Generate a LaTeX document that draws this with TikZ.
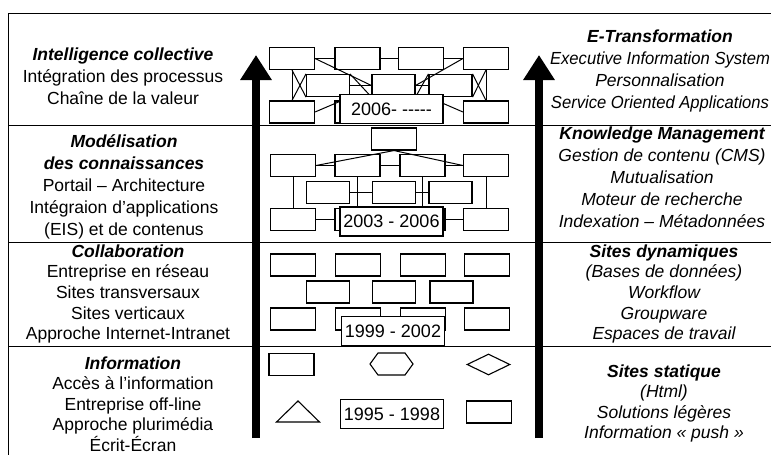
\documentclass[tikz,border=0pt]{standalone}
\usepackage{fontspec}
\usepackage{graphicx}
\setmainfont{Liberation Sans}
\usetikzlibrary{arrows.meta, positioning, shapes.geometric}

\newcommand{\squeeze}[1]{\scalebox{0.95}[1]{#1}}

\begin{document}
\begin{tikzpicture}[
        x=1pt, y=-1pt,
        blk/.style={draw, line width=1.1pt, minimum width=45pt, minimum height=22pt, inner sep=0pt},
        mid/.style={blk, minimum width=43pt},
        era/.style={draw, fill=white, line width=1.1pt, minimum width=103pt, minimum height=29pt, inner sep=0pt, font=\fontsize{18}{20}\selectfont},
        link/.style={line width=1pt},
        sep/.style={line width=0.9pt},
        col/.style={align=center, font=\fontsize{17.5}{22}\selectfont},
        coltight/.style={align=center, font=\fontsize{17.5}{20.6}\selectfont},
        rcol/.style={align=center, font=\fontsize{17.5}{22}\selectfont\itshape},
        rcoltight/.style={align=center, font=\fontsize{17.5}{20.6}\selectfont\itshape},
        evol/.style={line width=8pt, -{Triangle[width=30pt, length=25pt]}}
    ]
        \useasboundingbox (0,0) rectangle (771,455);
        \clip (0,0) rectangle (771,455);

        % Frame
        \draw[sep] (8,455) -- (8,13) -- (771,13);
        \draw[sep] (8,125) -- (771,125);
        \draw[sep] (8,242) -- (771,242);
        \draw[sep] (8,346) -- (771,346);

        % Left column
        \node[col] (l1) at (123,76.5) {\textbf{\textit{Intelligence collective}}\\Intégration des processus\\Chaîne de la valeur};
        \node[col] (l2) at (124,187) {\textbf{\textit{Modélisation}}\\\textbf{\textit{des connaissances}}\\Portail – Architecture\\Intégraion d’applications\\(EIS) et de contenus};
        \node[coltight] (l3) at (128,294) {\textbf{\textit{Collaboration}}\\Entreprise en réseau\\Sites transversaux\\Sites verticaux\\Approche Internet-Intranet};
        \node[coltight] (l4) at (133,404) {\textbf{\textit{Information}}\\Accès à l'information\\Entreprise off-line\\Approche plurimédia\\Écrit-Écran};

        % Right column
        \node[rcol] (r1) at (660,71) {\textbf{E-Transformation}\\\squeeze{Executive Information System}\\Personnalisation\\\squeeze{Service Oriented Applications}};
        \node[rcol] (r2) at (662,177) {\textbf{Knowledge Management}\\Gestion de contenu (CMS)\\Mutualisation\\Moteur de recherche\\Indexation – Métadonnées};
        \node[rcoltight] (r3) at (664,294) {\textbf{Sites dynamiques}\\(Bases de données)\\Workflow\\Groupware\\Espaces de travail};
        \node[rcoltight] (r4) at (664,403.5) {\textbf{Sites statique}\\(Html)\\Solutions légères\\Information «~push~»};

        % 2006 - network
        \node[blk] (a11) at (292,58.5) {};
        \node[blk] (a12) at (357.5,58.5) {};
        \node[blk] (a13) at (421,58.5) {};
        \node[blk] (a14) at (486,58.5) {};
        \node[mid] (a21) at (328,85.5) {};
        \node[mid] (a22) at (393.5,85.5) {};
        \node[mid] (a23) at (450.5,85.5) {};
        \node[blk] (a31) at (292,112) {};
        \node[blk] (a32) at (357.5,112) {};
        \node[blk] (a33) at (421,112) {};
        \node[blk] (a34) at (486,112) {};

        \draw[link] (a11) -- (a12);
        \draw[link] (a12) -- (a13);
        \draw[link] (a13) -- (a14);
        \draw[link] (a11.east) -- (a22.west);
        \draw[link] (a14.west) -- (a22.east);
        \draw[link] (a11.south) -- (a31.north);
        \draw[link] (a14.south) -- (a34.north);
        \draw[link] (a11.south) -- (a21.south west);
        \draw[link] (a31.north) -- (a21.north west);
        \draw[link] (a14.south) -- (a23.south east);
        \draw[link] (a34.north) -- (a23.north east);
        \draw[link] (a21) -- (a22);
        \draw[link] (a22) -- (a23);
        \draw[link] (a21.north east) -- (a22.south west);
        \draw[link] (a23.north west) -- (a22.south east);
        \draw[link] (a31.east) -- (a21.south east);
        \draw[link] (a34.west) -- (a23.south west);

        \node[era] (y1) at (391.5,109) {2006-{} -{}-{}-{}-{}-};

        % 2003 - 2006 network
        \node[blk] (k0) at (394,139) {};
        \node[blk] (k11) at (293,165.5) {};
        \node[blk] (k12) at (357.5,165.5) {};
        \node[blk] (k13) at (422.5,165.5) {};
        \node[blk] (k14) at (486,165.5) {};
        \node[mid] (k21) at (328,192.5) {};
        \node[mid] (k22) at (394,192.5) {};
        \node[mid] (k23) at (450.5,192.5) {};
        \node[blk] (k31) at (293,219.5) {};
        \node[blk] (k32) at (357.5,219.5) {};
        \node[blk] (k33) at (422.5,219.5) {};
        \node[blk] (k34) at (486,219.5) {};

        \draw[link] (k0.south) -- (k11.east);
        \draw[link] (k0.south) -- (k14.west);
        \draw[link] (k11) -- (k12);
        \draw[link] (k12) -- (k13);
        \draw[link] (k13) -- (k14);
        \draw[link] (k11) -- (k31);
        \draw[link] (k14) -- (k34);
        \draw[link] (k12) -- (k32);
        \draw[link] (k13) -- (k33);
        \draw[link] (k21) -- (k22);
        \draw[link] (k22) -- (k23);
        \draw[link] (k31) -- (k32);
        \draw[link] (k33) -- (k34);

        \node[era] (y2) at (391.5,221.5) {2003 - 2006};

        % 1999 - 2002 boxes
        \node[blk] (c11) at (293,265) {};
        \node[blk] (c12) at (358,265) {};
        \node[blk] (c13) at (423,265) {};
        \node[blk] (c14) at (487,265) {};
        \node[mid] (c21) at (328,292) {};
        \node[mid] (c22) at (394,292) {};
        \node[mid] (c23) at (451.5,292) {};
        \node[blk] (c31) at (293,319) {};
        \node[blk] (c32) at (358,319) {};
        \node[blk] (c33) at (423,319) {};
        \node[blk] (c34) at (487,319) {};

        \node[era] (y3) at (393,331) {1999 - 2002};

        % 1995 - 1998 shapes
        \node[blk] (s1) at (291.5,364.5) {};
        \coordinate (hexa) at (391.5,364);
        \draw[line width=1.1pt] (hexa) ++(-21.5,0) -- ++(8,-11) -- ++(27,0) -- ++(8,11) -- ++(-8,11) -- ++(-27,0) -- cycle;
        \node[draw, diamond, line width=1.1pt, minimum width=43pt, minimum height=21pt, inner sep=0pt] (losange) at (488.5,364.5) {};
        \coordinate (tri) at (298,411.5);
        \draw[line width=1.1pt] (tri) ++(-21.5,10.5) -- ++(21.5,-21) -- ++(21.5,21) -- cycle;
        \node[blk] (s2) at (489,412) {};

        \node[era] (y4) at (392,414) {1995 - 1998};

        % Evolution arrows
        \coordinate (lbot) at (256,438);
        \coordinate (ltop) at (256,55);
        \coordinate (rbot) at (539,438);
        \coordinate (rtop) at (539,55);
        \draw[evol] (lbot) -- (ltop);
        \draw[evol] (rbot) -- (rtop);
    \end{tikzpicture}
\end{document}
